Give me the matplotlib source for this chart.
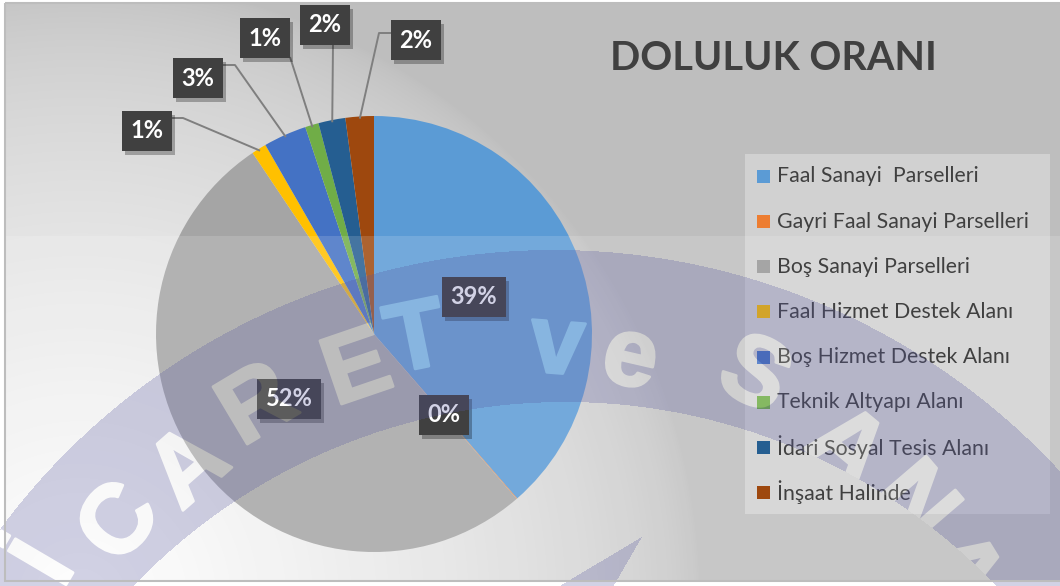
import numpy as np
import matplotlib
matplotlib.use("Agg")
import matplotlib.pyplot as plt
from matplotlib.patches import Rectangle
from matplotlib.path import Path
from matplotlib.figure import Figure
from matplotlib.backends.backend_agg import FigureCanvasAgg
import matplotlib.patheffects as pe

# ---------------- data ----------------
categories = ["Faal Sanayi  Parselleri", "Gayri Faal Sanayi Parselleri",
              "Boş Sanayi Parselleri", "Faal Hizmet Destek Alanı",
              "Boş Hizmet Destek Alanı", "Teknik Altyapı Alanı",
              "İdari Sosyal Tesis Alanı", "İnşaat Halinde"]
values = [38.6, 0.05, 51.95, 1.1, 3.2, 1.0, 2.0, 2.1]
colors = ["#5B9BD5", "#ED7D31", "#A5A5A5", "#FFC000",
          "#4472C4", "#70AD47", "#255E91", "#9E480E"]
title = "DOLULUK ORANI"
watermark_letters = ["İ", "C", "A", "R", "E", "T", "v", "e", "S", "A", "N", "A"]

# ---------------- layout (pixels) ----------------
W, H, DPI = 1060, 586, 100
FONT = ["Lato", "DejaVu Sans"]
PCX, PCY, PR = 374, 334, 218          # pie centre / radius
inner_idx = [0, 1, 2]
inner_r = 0.49
outer_pos = {3: (147, 131), 4: (198, 78), 5: (265, 38), 6: (325, 25), 7: (416, 40)}
outer_start = {3: [(172, 118), (183, 118)], 4: [(223, 65), (235, 65)],
               5: [(290, 57)], 6: [(333, 45)], 7: [(391, 33), (379, 33)]}
wm_pos = [(48, 566), (122, 525), (191, 470), (259, 408), (358, 372), (417, 343),
          (557, 348), (630, 360), (753, 378), (845, 450), (913, 505), (958, 572)]
WM_C = (519, 843)

fig = plt.figure(figsize=(W / DPI, H / DPI), dpi=DPI, facecolor="white")

# ---------------- background gradient ----------------
ax_bg = fig.add_axes([0, 0, 1, 1], zorder=0)
yy, xx = np.mgrid[0:H, 0:W] + 0.5
d = np.hypot(xx - 80, yy - 600)
t = np.clip(1 - d / 620, 0, 1) ** 0.6
val = (190 + 65 * t) / 255.0
bg = np.dstack([val, val, val, np.ones_like(val)])
inside = (xx >= 5) & (yy >= 3) & (yy <= 581)
bg[~inside] = [1, 1, 1, 1]
ax_bg.imshow(bg, extent=(0, W, H, 0), interpolation="bilinear", aspect="auto")
ax_bg.set_xlim(0, W); ax_bg.set_ylim(H, 0); ax_bg.axis("off")

# ---------------- pie ----------------
ax_pie = fig.add_axes([(PCX - PR) / W, (H - PCY - PR) / H, 2 * PR / W, 2 * PR / H], zorder=1)
wedges, _ = ax_pie.pie(values, colors=colors, startangle=90, counterclock=False,
                       radius=1, wedgeprops=dict(linewidth=0))
ax_pie.set_xlim(-1, 1); ax_pie.set_ylim(-1, 1); ax_pie.axis("off")
ax_pie.patch.set_alpha(0)

def pie_px(w, r):
    th = np.deg2rad((w.theta1 + w.theta2) / 2)
    return PCX + PR * r * np.cos(th), PCY - PR * r * np.sin(th)

# ---------------- overlay ----------------
ax = fig.add_axes([0, 0, 1, 1], zorder=2)
ax.set_xlim(0, W); ax.set_ylim(H, 0); ax.axis("off")
ax.patch.set_alpha(0)

# lightening of lower part
light = np.zeros((H, W, 4))
light[..., :3] = 1
light[..., 3] = np.where((yy >= 236) & (yy <= 581), 0.15, 0)
ax.imshow(light, extent=(0, W, H, 0), interpolation="nearest", aspect="auto", zorder=1)

# legend
ax.add_patch(Rectangle((745, 154), 305, 360, fc="white", alpha=0.3, ec="none", zorder=2))
for i, (lab, c) in enumerate(zip(categories, colors)):
    yc = 176.5 + 45.15 * i
    ax.add_patch(Rectangle((757, yc - 6.5), 13, 13, fc=c, ec="none", zorder=3))
    ax.text(777, yc, lab, ha="left", va="center", fontsize=15.3, color="#404040",
            family=FONT, zorder=3)

total = sum(values)
pct = [f"{round(v / total * 100):.0f}%" for v in values]

def label(x, y, s):
    ax.text(x + 3, y + 4, s, ha="center", va="center", fontsize=17, fontweight="bold",
            color=(0, 0, 0, 0), family=FONT, zorder=4,
            bbox=dict(boxstyle="square,pad=0.36", fc=(0, 0, 0, 0.28), ec="none"))
    ax.text(x, y, s, ha="center", va="center", fontsize=17, fontweight="bold",
            color="white", family=FONT, zorder=5,
            bbox=dict(boxstyle="square,pad=0.36", fc="#404040", ec="none"))

for i in inner_idx:
    x, y = pie_px(wedges[i], inner_r)
    label(x, y, pct[i])
for i, (x, y) in outer_pos.items():
    ex, ey = pie_px(wedges[i], 0.99)
    pts = outer_start[i] + [(ex, ey)]
    ax.plot([p[0] for p in pts], [p[1] for p in pts], color="#7f7f7f", lw=1.4,
            zorder=3, solid_capstyle="butt")
    label(x, y, pct[i])

# ---------------- watermark ----------------
fig2 = Figure(figsize=(W / DPI, H / DPI), dpi=DPI)
cv2 = FigureCanvasAgg(fig2)
a2 = fig2.add_axes([0, 0, 1, 1])
a2.set_xlim(0, W); a2.set_ylim(H, 0); a2.axis("off")
for ch, (x, y) in zip(watermark_letters, wm_pos):
    rot = -np.degrees(np.arctan2(x - WM_C[0], WM_C[1] - y))
    a2.text(x, y, ch, ha="center", va="center", rotation=rot, rotation_mode="anchor",
            fontsize=70, fontweight="bold", family="Liberation Sans", color="black",
            path_effects=[pe.withStroke(linewidth=2, foreground="black")])
cv2.draw()
buf = np.asarray(cv2.buffer_rgba()).astype(float)
letter = 1 - buf[..., 0] / 255.0

band = (np.hypot(xx - 554, yy - 939) < 689) & (np.hypot(xx - 565, yy - 1000) > 598)
stroke = Path([(642, 537), (613, 587), (558, 587), (642, 537)])
band |= stroke.contains_points(np.c_[xx.ravel(), yy.ravel()]).reshape(H, W)
bandf = band.astype(float)

wm = np.zeros((H, W, 4))
pc = np.array([88, 88, 160]) / 255.0
wa = bandf * (1 - letter) * 0.27
la = bandf * letter * 0.15
A = wa + la
for k in range(3):
    wm[..., k] = np.where(A > 0, (pc[k] * wa + 1.0 * la) / np.maximum(A, 1e-9), 0)
wm[..., 3] = A
ax.imshow(wm, extent=(0, W, H, 0), interpolation="bilinear", aspect="auto", zorder=8)

# title and frame
ax.text(773, 58, title, ha="center", va="center", fontsize=28.5, fontweight="bold",
        color="#404040", family=FONT, zorder=10)
ax.add_patch(Rectangle((5, 3), W, 578, fill=False, ec="#bdbdbd", lw=1.5, zorder=11))

fig.savefig("out.png", dpi=DPI, facecolor="white")
